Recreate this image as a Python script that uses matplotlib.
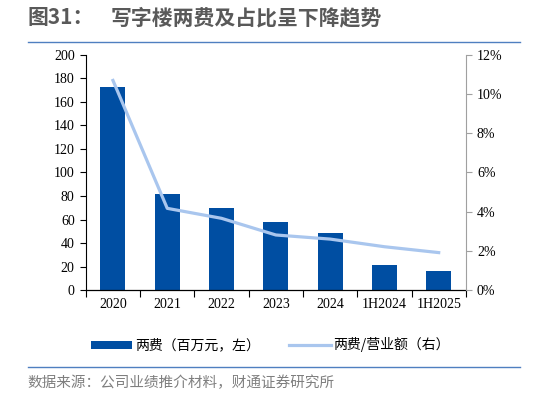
import numpy as np
import matplotlib
matplotlib.use("Agg")
import matplotlib.pyplot as plt
from matplotlib.lines import Line2D
from matplotlib.patches import Patch

plt.rcParams['font.family'] = ['Noto Sans CJK SC', 'DejaVu Sans']

# data
categories = ["2020", "2021", "2022", "2023", "2024", "1H2024", "1H2025"]
fees = [172.5, 81.7, 69.8, 57.6, 48.8, 21.5, 15.9]          # 两费, 百万元
fee_ratio = [10.7, 4.17, 3.66, 2.81, 2.60, 2.21, 1.91]       # 两费/营业额, %

bar_color = '#004EA2'
line_color = '#A9C6EE'
serif = 'Liberation Serif'

fig = plt.figure(figsize=(5.33, 3.97), dpi=100)
ax = fig.add_axes([0.161, 0.2695, 0.713, 0.592])
ax2 = ax.twinx()

x = np.arange(len(categories))
ax.bar(x, fees, width=0.46, color=bar_color, zorder=2)
ax2.plot(x, fee_ratio, color=line_color, linewidth=2.3, zorder=3)

ax.set_xlim(-0.5, len(categories) - 0.5)
ax.set_ylim(0, 200)
ax.set_yticks(range(0, 201, 20))
ax2.set_ylim(0, 12)
ax2.set_yticks(range(0, 13, 2))
ax2.set_yticklabels([f"{v}%" for v in range(0, 13, 2)])

ax.set_xticks(x)
ax.set_xticklabels(categories)
ax.set_xticks(np.arange(len(categories) + 1) - 0.5, minor=True)
ax.tick_params(axis='x', which='major', length=0, pad=6)
ax.tick_params(axis='x', which='minor', length=5, direction='out', width=0.8)

for lab in ax.get_xticklabels() + ax.get_yticklabels() + ax2.get_yticklabels():
    lab.set_fontfamily(serif)
    lab.set_fontsize(10)

ax.tick_params(axis='y', direction='out', length=4, width=0.8, pad=4)
ax2.tick_params(axis='y', direction='out', length=4, width=0.8, color='#A0A0A0', pad=4)

for s in ['top', 'right']:
    ax.spines[s].set_visible(False)
ax2.spines['top'].set_visible(False)
ax2.spines['left'].set_visible(False)
ax2.spines['bottom'].set_visible(False)
ax2.spines['right'].set_color('#A0A0A0')
ax.spines['left'].set_linewidth(0.8)
ax.spines['bottom'].set_linewidth(0.9)

handles = [Patch(facecolor=bar_color, edgecolor='none'),
           Line2D([0], [0], color=line_color, linewidth=2.3)]
labels = ["两费（百万元，左）", "两费/营业额（右）"]
fig.legend(handles, labels, loc='center', bbox_to_anchor=(0.507, 0.131), ncol=2,
           frameon=False, fontsize=10, handlelength=3.0, handleheight=0.5,
           handletextpad=0.2, columnspacing=2.1)

# title and source
fig.text(0.052, 0.955, "图31：", fontsize=15, color='#595959', fontweight='bold', va='center')
fig.text(0.207, 0.955, "写字楼两费及占比呈下降趋势", fontsize=15, color='#595959',
         fontweight='bold', va='center')
fig.add_artist(Line2D([0.052, 0.975], [0.894, 0.894], color='#4F7FC0', linewidth=1.0))
fig.add_artist(Line2D([0.052, 0.975], [0.076, 0.076], color='#4F7FC0', linewidth=1.0))
fig.text(0.052, 0.035, "数据来源：公司业绩推介材料，财通证券研究所", fontsize=10.5,
         color='#7F7F7F', va='center')

fig.savefig("out.png", dpi=100)
